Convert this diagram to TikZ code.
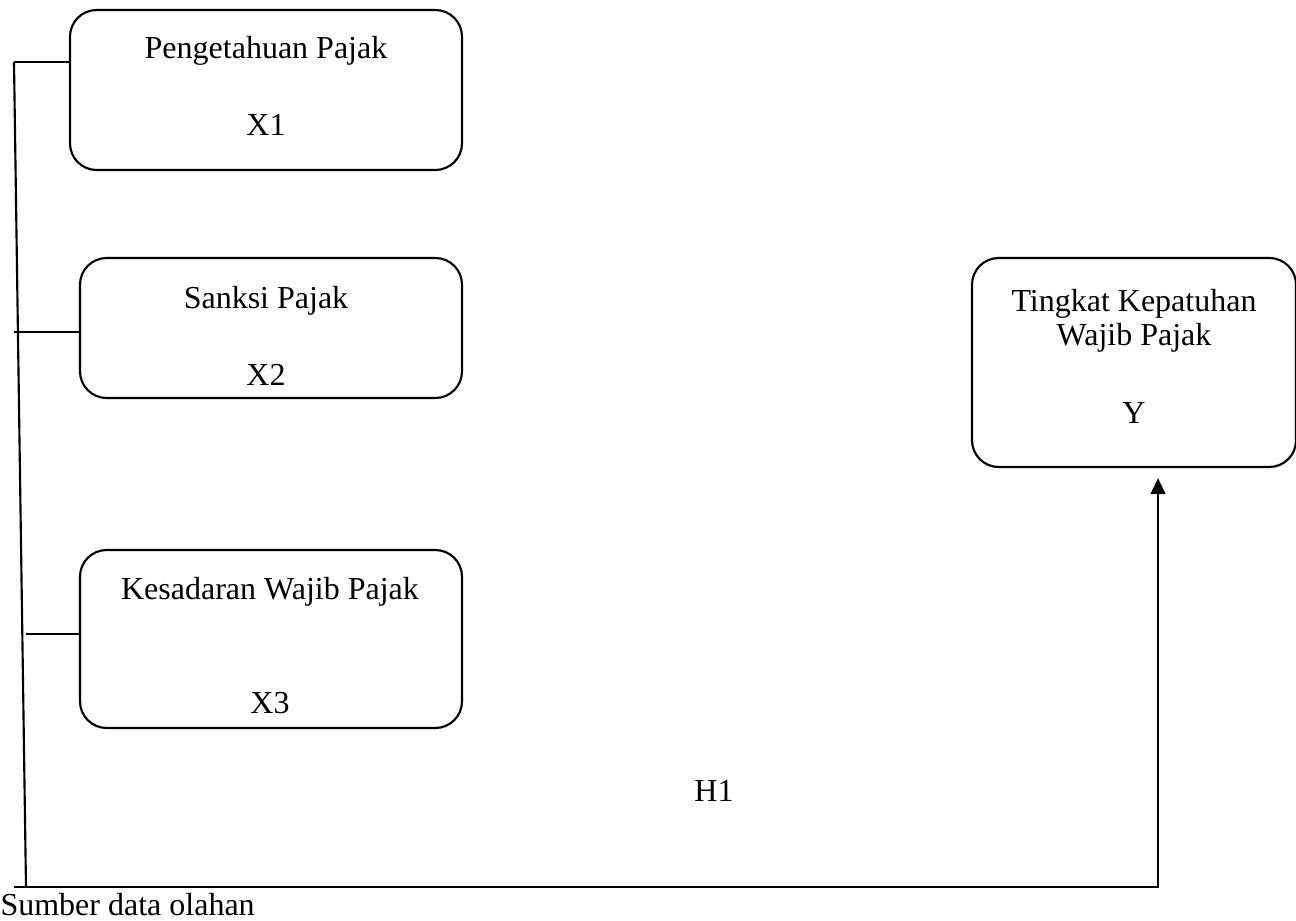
\documentclass[tikz,border=0pt]{standalone}
\usepackage{fontspec}
\setmainfont{Liberation Serif}
\usetikzlibrary{arrows.meta}
\begin{document}
\begin{tikzpicture}[x=0.375pt,y=-0.375pt,
  box/.style={draw,line width=0.8pt,rounded corners=10pt,inner sep=0pt},
  txt/.style={font=\fontsize{12pt}{14pt}\selectfont,inner sep=0pt,anchor=base},
  conn/.style={line width=0.8pt}]
\useasboundingbox (0,0) rectangle (1296,920);
% boxes
\node[box,minimum width=392*0.375pt,minimum height=160*0.375pt] (b1) at (266,90) {};
\node[box,minimum width=382*0.375pt,minimum height=140*0.375pt] (b2) at (271,328) {};
\node[box,minimum width=382*0.375pt,minimum height=178*0.375pt] (b3) at (271,639) {};
\node[box,minimum width=324*0.375pt,minimum height=209*0.375pt] (by) at (1134,362.5) {};
% texts
\node[txt] (t1a) at (266,59) {Pengetahuan Pajak};
\node[txt] (t1b) at (266,136) {X1};
\node[txt] (t2a) at (266,308) {Sanksi Pajak};
\node[txt] (t2b) at (266,385) {X2};
\node[txt] (t3a) at (270,599) {Kesadaran Wajib Pajak};
\node[txt] (t3b) at (270,713) {X3};
\node[txt] (tya) at (1134,311) {Tingkat Kepatuhan};
\node[txt] (tyb) at (1134,345) {Wajib Pajak};
\node[txt] (tyc) at (1134,423) {Y};
\node[txt] (h1) at (714,801) {H1};
\node[txt,anchor=base west] (src) at (0,915) {Sumber data olahan};
% connectors
\coordinate (ctop) at (14,62);
\coordinate (cbot) at (26,887);
\coordinate (cbl) at (14,887);
\coordinate (c2) at (14,332);
\coordinate (c3) at (26,634);
\coordinate (cr) at (1158,887);
\draw[conn] (ctop) -- (ctop -| b1.west);
\draw[conn] (ctop) -- (cbot);
\draw[conn] (c2) -- (c2 -| b2.west);
\draw[conn] (c3) -- (c3 -| b3.west);
\draw[conn,-{Triangle[width=5.5pt,length=6pt]},shorten >=3.75pt] (cbl) -- (cr) -- (cr |- by.south);
\end{tikzpicture}
\end{document}
